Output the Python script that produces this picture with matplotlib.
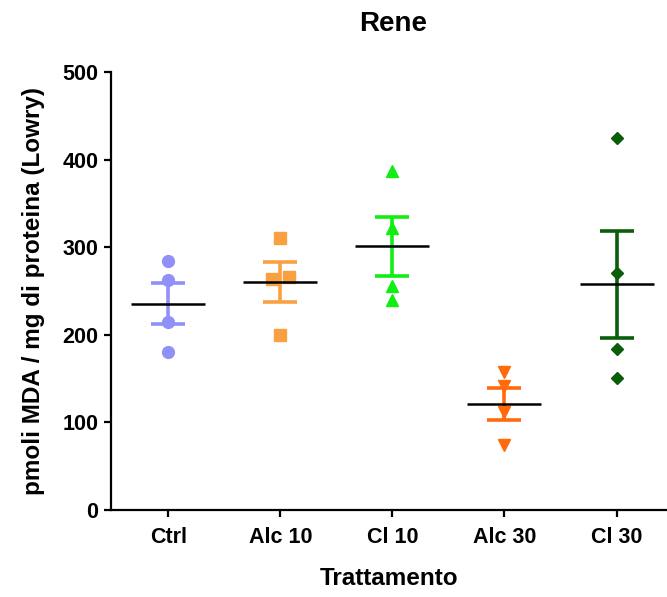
import numpy as np
import matplotlib
matplotlib.use("Agg")
import matplotlib.pyplot as plt

plt.rcParams['font.family'] = ['Liberation Sans', 'DejaVu Sans']
plt.rcParams['font.weight'] = 'bold'

# data (pmoli MDA / mg proteina)
groups = ["Ctrl", "Alc 10", "Cl 10", "Alc 30", "Cl 30"]
ctrl   = [284, 263, 215, 180]
alc10  = [311, 264, 266, 200]
cl10   = [387, 322, 256, 240]
alc30  = [157, 141, 112, 74]
cl30   = [425, 271, 184, 151]
values = [ctrl, alc10, cl10, alc30, cl30]

colors  = ["#9090f7", "#f9a040", "#11ee11", "#ff6a0a", "#0a5e0a"]
markers = ["o", "s", "^", "v", "D"]
msizes  = [8.5, 8.5, 8.5, 8.5, 6.5]

fig = plt.figure(figsize=(6.67, 5.97), dpi=100)
ax = fig.add_axes([111/667, 1 - 510/597, 1 - 111/667, 438/597])

for i, vals in enumerate(values):
    v = np.array(vals, dtype=float)
    m = v.mean()
    sem = v.std(ddof=1) / np.sqrt(len(v))
    # spread points that sit at nearly the same height
    xs = np.full(len(v), float(i))
    for a in range(len(v)):
        for b in range(a + 1, len(v)):
            if abs(v[a] - v[b]) < 8:
                xs[a] -= 0.075
                xs[b] += 0.075
    ax.plot(xs, v, linestyle="none", marker=markers[i], ms=msizes[i],
            color=colors[i], mec=colors[i], zorder=3)
    ax.errorbar(i, m, yerr=sem, fmt="none", ecolor=colors[i], elinewidth=2.6,
                capsize=12.5, capthick=2.6, zorder=2)
    ax.hlines(m, i - 0.33, i + 0.33, color="black", lw=1.8, zorder=4)

ax.set_xlim(-0.51, 4.45)
ax.set_ylim(0, 500)
ax.set_yticks([0, 100, 200, 300, 400, 500])
ax.set_xticks(range(len(groups)))
ax.set_xticklabels(groups)

for s in ["top", "right"]:
    ax.spines[s].set_visible(False)
for s in ["left", "bottom"]:
    ax.spines[s].set_linewidth(1.6)
ax.tick_params(axis="both", width=1.6, length=5, labelsize=15.5, pad=4)
ax.tick_params(axis="x", pad=7)

ax.set_ylabel("pmoli MDA / mg di proteina (Lowry)", fontsize=17.5, fontweight="bold")
ax.set_xlabel("Trattamento", fontsize=17.5, fontweight="bold")
ax.yaxis.set_label_coords(-0.118, 0.5)
ax.xaxis.set_label_coords(0.5, -0.13)
fig.text(393/667, 1 - 24/597, "Rene", ha="center", va="center", fontsize=20, fontweight="bold")

fig.savefig("out.png", dpi=100)
